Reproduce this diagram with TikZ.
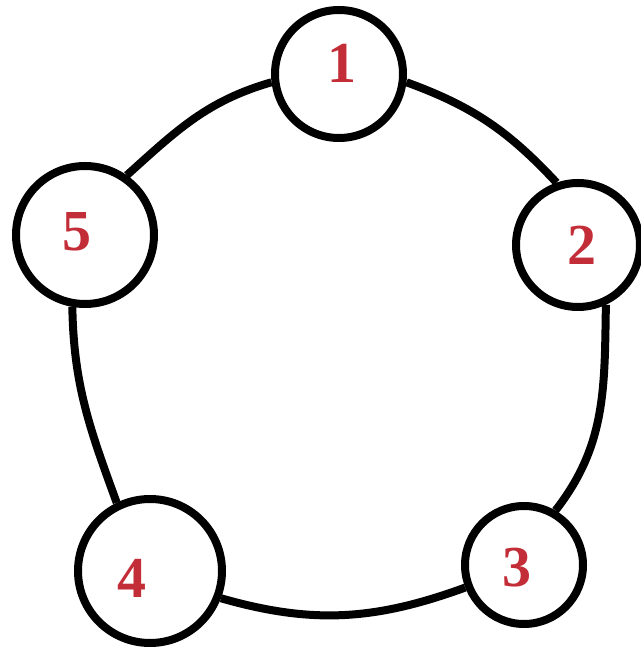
\documentclass[tikz,border=0pt]{standalone}
\usepackage{fontspec}
\setmainfont{Liberation Serif}
\usetikzlibrary{calc}
\definecolor{numred}{RGB}{195,45,55}
\begin{document}
\begin{tikzpicture}[x=1pt,y=1pt,
  vtx/.style={circle,draw=black,line width=8pt,inner sep=0pt,fill=white},
  lab/.style={text=numred,font=\bfseries\fontsize{58}{58}\selectfont,inner sep=0pt},
  link/.style={line width=8pt,draw=black}]
\useasboundingbox (0,0) rectangle (640,648);
\node[vtx,minimum size=128pt] (n1) at (339,574) {};
\node[vtx,minimum size=124pt] (n2) at (578,403) {};
\node[vtx,minimum size=118pt] (n3) at (524,83) {};
\node[vtx,minimum size=144pt] (n4) at (150,77) {};
\node[vtx,minimum size=138pt] (n5) at (85,413) {};
\draw[link] (n1.-7) to[out=-20,in=133] (n2.109);
\draw[link] (n2.-65) to[out=-91,in=52] (n3.60);
\draw[link] (n3.201) to[out=200,in=-16] (n4.-21);
\draw[link] (n4.116) to[out=110,in=-89] (n5.-100);
\draw[link] (n5.55) to[out=42,in=196] (n1.187);
\node[lab] (l1) at ($(n1)+(3,11)$) {1};
\node[lab] (l2) at ($(n2)+(4,0)$) {2};
\node[lab] (l3) at ($(n3)+(-7,-3)$) {3};
\node[lab] (l4) at ($(n4)+(-18,-7)$) {4};
\node[lab] (l5) at ($(n5)+(-8,3)$) {5};
\end{tikzpicture}
\end{document}
